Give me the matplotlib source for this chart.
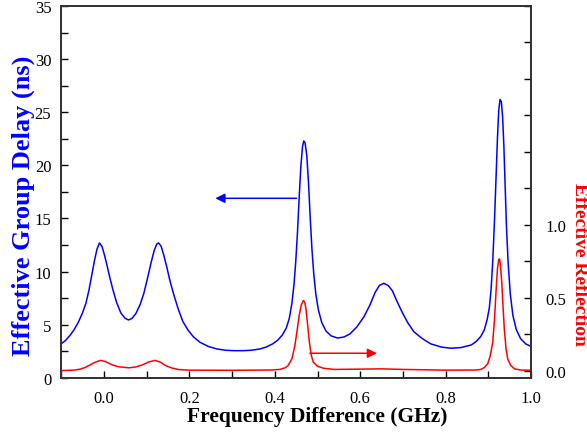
import matplotlib
matplotlib.use("Agg")
import matplotlib.pyplot as plt
from matplotlib.ticker import MultipleLocator, FixedLocator

# Effective group delay (ns) vs frequency difference (GHz)
freq_gd = [-0.100, -0.090, -0.080, -0.070, -0.060, -0.050, -0.042, -0.035, -0.028, -0.022,
           -0.016, -0.010, -0.004, 0.002, 0.008, 0.015, 0.022, 0.030, 0.040, 0.050,
           0.058, 0.066, 0.075, 0.085, 0.094, 0.103, 0.111, 0.118, 0.124, 0.128,
           0.134, 0.140, 0.147, 0.155, 0.164, 0.174, 0.185, 0.197, 0.210, 0.225,
           0.245, 0.265, 0.285, 0.305, 0.325, 0.345, 0.365, 0.380, 0.395, 0.407,
           0.418, 0.427, 0.434, 0.440, 0.445, 0.449, 0.453, 0.457, 0.461, 0.465,
           0.468, 0.471, 0.475, 0.479, 0.483, 0.487, 0.491, 0.496, 0.502, 0.510,
           0.520, 0.532, 0.547, 0.562, 0.576, 0.592, 0.608, 0.622, 0.635, 0.645,
           0.655, 0.665, 0.675, 0.686, 0.698, 0.711, 0.725, 0.745, 0.765, 0.790,
           0.812, 0.835, 0.860, 0.872, 0.882, 0.890, 0.897, 0.902, 0.906, 0.910,
           0.914, 0.918, 0.921, 0.924, 0.927, 0.930, 0.933, 0.936, 0.939, 0.942,
           0.946, 0.951, 0.957, 0.965, 0.975, 0.987, 1.000]
group_delay = [3.2, 3.5, 3.95, 4.5, 5.2, 6.1, 7.0, 8.2, 9.7, 11.0,
               12.1, 12.7, 12.35, 11.5, 10.5, 9.3, 8.2, 7.1, 6.1, 5.6,
               5.45, 5.6, 6.05, 6.9, 8.0, 9.5, 10.9, 12.0, 12.6, 12.7,
               12.4, 11.6, 10.5, 9.1, 7.8, 6.5, 5.3, 4.5, 3.85, 3.35,
               2.95, 2.72, 2.6, 2.56, 2.56, 2.6, 2.72, 2.9, 3.2, 3.55,
               4.05, 4.7, 5.6, 7.0, 8.8, 10.9, 13.6, 16.9, 19.9, 21.8,
               22.3, 22.1, 20.9, 18.3, 15.0, 12.1, 9.9, 7.9, 6.4, 5.2,
               4.4, 3.95, 3.75, 3.85, 4.14, 4.8, 5.71, 6.8, 8.06, 8.7,
               8.9, 8.7, 8.21, 7.2, 6.18, 5.2, 4.36, 3.7, 3.2, 2.9,
               2.79, 2.85, 3.1, 3.45, 3.9, 4.5, 5.5, 6.6, 8.3, 11.0,
               14.8, 19.2, 22.6, 25.2, 26.2, 26.0, 24.6, 21.8, 18.0, 14.3,
               10.8, 7.9, 5.9, 4.55, 3.7, 3.2, 2.95]

# Effective reflection vs frequency difference (GHz)
freq_r = [-0.100, -0.070, -0.055, -0.045, -0.035, -0.022, -0.008, 0.004, 0.020, 0.035,
          0.059, 0.075, 0.090, 0.106, 0.120, 0.132, 0.145, 0.160, 0.176, 0.200,
          0.300, 0.390, 0.412, 0.425, 0.431, 0.440, 0.447, 0.452, 0.457, 0.462,
          0.467, 0.470, 0.473, 0.477, 0.481, 0.485, 0.490, 0.500, 0.514, 0.540,
          0.600, 0.650, 0.700, 0.800, 0.870, 0.882, 0.890, 0.898, 0.904, 0.910,
          0.914, 0.918, 0.921, 0.924, 0.926, 0.928, 0.931, 0.934, 0.937, 0.941,
          0.945, 0.952, 0.961, 0.975, 1.000]
reflection = [0.0, 0.003, 0.010, 0.020, 0.034, 0.055, 0.070, 0.062, 0.039, 0.026,
              0.019, 0.025, 0.039, 0.060, 0.070, 0.058, 0.034, 0.017, 0.007, 0.003,
              0.002, 0.004, 0.008, 0.020, 0.034, 0.080, 0.171, 0.270, 0.377, 0.450,
              0.480, 0.470, 0.423, 0.310, 0.195, 0.110, 0.058, 0.030, 0.016, 0.008,
              0.010, 0.012, 0.008, 0.003, 0.004, 0.008, 0.020, 0.046, 0.100, 0.195,
              0.350, 0.560, 0.700, 0.760, 0.766, 0.720, 0.606, 0.440, 0.286, 0.150,
              0.080, 0.035, 0.012, 0.004, 0.002]

x_ticks = [0.0, 0.2, 0.4, 0.6, 0.8, 1.0]
x_tick_labels = ["0.0", "0.2", "0.4", "0.6", "0.8", "1.0"]
left_ticks = [0, 5, 10, 15, 20, 25, 30, 35]
right_ticks = [0.0, 0.5, 1.0]
right_tick_labels = ["0.0", "0.5", "1.0"]

serif = ["Liberation Serif", "DejaVu Serif"]
plt.rcParams["font.family"] = serif

fig = plt.figure(figsize=(5.87, 4.35), dpi=100)
ax = fig.add_axes([0.104, 0.129, 0.801, 0.855])
ax2 = ax.twinx()

ax.plot(freq_gd, group_delay, color="#0000ff", lw=1.1)
ax2.plot(freq_r, reflection, color="#ff0000", lw=1.1)

ax.set_xlim(-0.1, 1.0)
ax.set_ylim(0, 35)
ax2.set_ylim(-0.05, 2.5)

ax.xaxis.set_major_locator(FixedLocator(x_ticks))
ax.set_xticklabels(x_tick_labels)
ax.xaxis.set_minor_locator(MultipleLocator(0.1))
ax.yaxis.set_major_locator(FixedLocator(left_ticks))
ax.yaxis.set_minor_locator(MultipleLocator(2.5))
ax2.yaxis.set_major_locator(FixedLocator(right_ticks))
ax2.set_yticklabels(right_tick_labels)
ax2.yaxis.set_minor_locator(MultipleLocator(0.25))

for a in (ax, ax2):
    a.tick_params(which="both", direction="in", length=5, width=1.0,
                  labelsize=12, colors="black")
    for s in a.spines.values():
        s.set_linewidth(1.3)
        s.set_color("#333333")
ax.tick_params(axis="x", pad=9)
ax.tick_params(axis="y", pad=7)
ax2.tick_params(axis="y", pad=10)
ax.tick_params(top=False, right=False, which="both")

ax.set_xlabel("Frequency Difference (GHz)", fontsize=15.5, fontweight="bold", labelpad=0)
ax.xaxis.label.set_x(0.545)
ax.text(-0.081, 0.465, "Effective Group Delay (ns)", transform=ax.transAxes,
        rotation=90, ha="center", va="center", fontsize=19, fontweight="bold",
        color="#0000ff")
ax.text(1.102, 0.308, "Effective Reflection", transform=ax.transAxes,
        rotation=-90, ha="center", va="center", fontsize=14, fontweight="bold",
        color="#ff0000")

ax.annotate("", xy=(0.261, 16.9), xytext=(0.451, 16.9),
            arrowprops=dict(arrowstyle="-|>", color="#0000ff", lw=1.1,
                            mutation_scale=14, shrinkA=0, shrinkB=0))
ax2.annotate("", xy=(0.639, 0.119), xytext=(0.482, 0.119),
             arrowprops=dict(arrowstyle="-|>", color="#ff0000", lw=1.1,
                             mutation_scale=14, shrinkA=0, shrinkB=0))

fig.savefig("out.png", dpi=100)
